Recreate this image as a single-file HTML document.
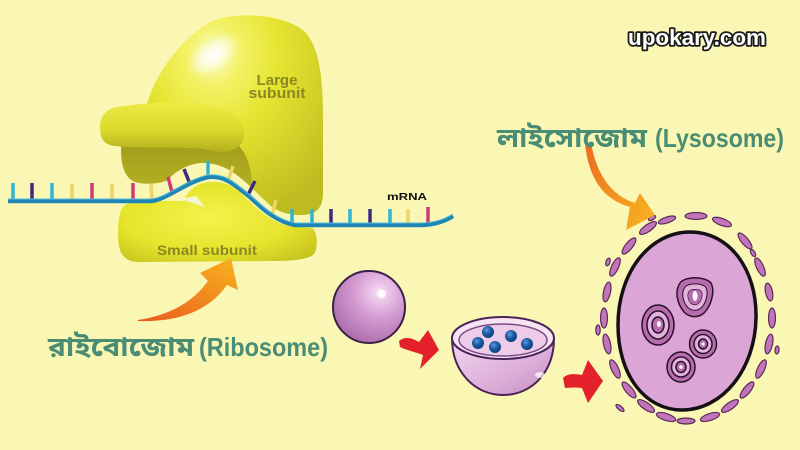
<!DOCTYPE html>
<html><head><meta charset="utf-8"><style>
html,body{margin:0;padding:0;background:#faf7b4;}
svg{display:block;}
</style></head><body>
<svg width="800" height="450" viewBox="0 0 800 450" xmlns="http://www.w3.org/2000/svg">
<defs>
<radialGradient id="gBody" cx="0.38" cy="0.2" r="0.85">
<stop offset="0" stop-color="#fafad0"/><stop offset="0.18" stop-color="#f3f266"/><stop offset="0.45" stop-color="#e5e430"/><stop offset="1" stop-color="#bebb20"/></radialGradient>
<radialGradient id="gHi" cx="0.5" cy="0.5" r="0.5">
<stop offset="0" stop-color="#ffffff" stop-opacity="0.95"/><stop offset="0.5" stop-color="#ffffff" stop-opacity="0.55"/><stop offset="1" stop-color="#ffffff" stop-opacity="0"/></radialGradient>
<linearGradient id="gLip" x1="0" y1="0" x2="0" y2="1">
<stop offset="0" stop-color="#ecea44"/><stop offset="0.55" stop-color="#dcda2c"/><stop offset="1" stop-color="#b3af1e"/></linearGradient>
<linearGradient id="gLow" x1="0" y1="0" x2="0" y2="1">
<stop offset="0" stop-color="#9e9a18"/><stop offset="1" stop-color="#b5b124"/></linearGradient>
<radialGradient id="gSmall" cx="0.45" cy="0.45" r="0.7">
<stop offset="0" stop-color="#f4f34c"/><stop offset="0.6" stop-color="#e6e42c"/><stop offset="1" stop-color="#c6c21e"/></radialGradient>
<radialGradient id="gSphere" cx="0.65" cy="0.3" r="0.8">
<stop offset="0" stop-color="#ffffff"/><stop offset="0.1" stop-color="#f0cdee"/><stop offset="0.45" stop-color="#d39bd0"/><stop offset="1" stop-color="#a866a8"/></radialGradient>
<linearGradient id="gBowl" x1="0" y1="0" x2="1" y2="1">
<stop offset="0" stop-color="#f2d6ee"/><stop offset="0.6" stop-color="#dcaed8"/><stop offset="1" stop-color="#c48cc0"/></linearGradient>
<radialGradient id="gDot" cx="0.4" cy="0.35" r="0.7">
<stop offset="0" stop-color="#5a9ae0"/><stop offset="0.5" stop-color="#1b5aa0"/><stop offset="1" stop-color="#0c3a78"/></radialGradient>
<linearGradient id="gArr1" x1="0" y1="1" x2="1" y2="0">
<stop offset="0" stop-color="#ea5a1e"/><stop offset="1" stop-color="#f8b41e"/></linearGradient>
<linearGradient id="gArr2" x1="0" y1="0" x2="1" y2="1">
<stop offset="0" stop-color="#ec6a22"/><stop offset="1" stop-color="#f8b820"/></linearGradient>
</defs>

<!-- Large subunit body -->
<path d="M147,104 C156,72 182,38 212,21 C238,11 285,14 305,32 C320,48 323,80 323,120 L323,195 C322,210 315,215 300,215 C288,215 280,212 272,207 C262,198 250,186 238,175 C228,167 212,162 200,163 C188,164 180,168 172,176 L165,150 L150,120 Z" fill="url(#gBody)"/>
<ellipse cx="213" cy="55" rx="30" ry="17" fill="url(#gHi)" transform="rotate(-35 213 55)"/>
<!-- lower lip -->
<path d="M122,140 C119,158 123,178 135,182 C145,185 160,184 168,180 C175,172 185,165 200,163 C215,162 228,168 238,176 C244,181 248,184 252,188 C252,170 248,155 238,145 L130,138 Z" fill="url(#gLow)"/>
<!-- top lip -->
<path d="M100,128 C100,112 110,107 125,106 C150,102 190,101 215,107 C238,113 248,125 243,140 C238,153 222,154 202,149 C172,146 140,149 115,146 C104,145 100,138 100,128 Z" fill="url(#gLip)"/>

<!-- Small subunit -->
<path d="M127,204 C140,200 170,201 183,201 C186,196 190,188 200,184 C212,180 228,181 240,192 C252,204 268,222 290,226 L312,228 C318,232 318,248 314,254 C308,260 290,261 270,261 L140,262 C125,262 118,255 118,235 C118,218 120,207 127,204 Z" fill="url(#gSmall)"/>
<path d="M180,199 L196,196 L205,207 Z" fill="#f6f4d4"/>

<!-- mRNA ticks -->
<g stroke-width="3.5" stroke-linecap="butt">
<line x1="13" y1="200" x2="13" y2="183" stroke="#2fb4d4"/>
<line x1="32" y1="200" x2="32" y2="183" stroke="#3c2c7c"/>
<line x1="52" y1="200" x2="52" y2="183" stroke="#2fb4d4"/>
<line x1="72" y1="200" x2="72" y2="184" stroke="#eed468"/>
<line x1="92" y1="200" x2="92" y2="183" stroke="#d03a7a"/>
<line x1="112" y1="200" x2="112" y2="184" stroke="#eed468"/>
<line x1="133" y1="200" x2="133" y2="183" stroke="#d03a7a"/>
<line x1="152" y1="199" x2="151" y2="184" stroke="#eed468"/>
<line x1="172" y1="192" x2="168" y2="177" stroke="#d03a7a"/>
<line x1="190" y1="184" x2="184" y2="169" stroke="#3c2c7c"/>
<line x1="208" y1="177" x2="208" y2="161" stroke="#2fb4d4"/>
<line x1="228" y1="181" x2="233" y2="166" stroke="#eed468"/>
<line x1="248" y1="195" x2="255" y2="181" stroke="#3c2c7c"/>
<line x1="272" y1="215" x2="276" y2="200" stroke="#eed468"/>
<line x1="292" y1="225" x2="292" y2="209" stroke="#2fb4d4"/>
<line x1="312" y1="225" x2="312" y2="209" stroke="#2fb4d4"/>
<line x1="331" y1="225" x2="331" y2="209" stroke="#3c2c7c"/>
<line x1="350" y1="225" x2="350" y2="209" stroke="#2fb4d4"/>
<line x1="370" y1="225" x2="370" y2="209" stroke="#3c2c7c"/>
<line x1="390" y1="225" x2="390" y2="209" stroke="#2fb4d4"/>
<line x1="408" y1="225" x2="408" y2="209" stroke="#eed468"/>
<line x1="428" y1="223" x2="428" y2="207" stroke="#d03a7a"/>
</g>
<!-- mRNA strand -->
<path d="M8,201 L150,201 C165,201 185,182 208,177 C225,175 235,185 250,197 C262,208 275,221 295,225 L420,225 C435,225 445,221 453,216" fill="none" stroke="#1e86b4" stroke-width="4.5"/>
<path d="M8,199 L150,199 C165,199 185,180 208,175 C225,173 235,183 250,195 C262,206 275,219 295,223 L420,223 C435,223 445,219 453,214" fill="none" stroke="#58bcd8" stroke-width="1"/>

<!-- ribosome labels -->
<g font-family="Liberation Sans, sans-serif" font-weight="bold" fill="#8a8822" text-anchor="middle">
<text x="277" y="85" font-size="15" textLength="41" lengthAdjust="spacingAndGlyphs">Large</text>
<text x="277" y="98" font-size="15" textLength="57" lengthAdjust="spacingAndGlyphs">subunit</text>
<text x="207" y="255" font-size="14" textLength="100" lengthAdjust="spacingAndGlyphs">Small subunit</text>
</g>
<text x="387" y="200" font-family="Liberation Sans, sans-serif" font-weight="bold" font-size="10.5" fill="#111" textLength="40" lengthAdjust="spacingAndGlyphs">mRNA</text>

<!-- ribosome arrow -->
<path d="M138,320 Q185,313 208,281 L200,273 L231,258 L238,290 L227,285 Q200,323 138,321 Z" fill="url(#gArr1)"/>

<!-- Ribosome label -->
<text x="48" y="356" font-family="Liberation Sans, 'Noto Sans Bengali', 'Lohit Bengali', FreeSans, sans-serif" font-weight="bold" font-size="27" fill="#4a8c74" textLength="146" lengthAdjust="spacingAndGlyphs">রাইবোজোম</text>
<text x="199" y="356" font-family="Liberation Sans, sans-serif" font-weight="bold" font-size="26" fill="#4a8c74" textLength="129" lengthAdjust="spacingAndGlyphs">(Ribosome)</text>

<!-- sphere -->
<circle cx="369" cy="307" r="36" fill="url(#gSphere)" stroke="#3c1f48" stroke-width="2"/>
<circle cx="382" cy="294" r="4" fill="#fff" opacity="0.9"/>

<!-- red arrow 1 -->
<path d="M399,341 C405,336 412,338 419,342 L428,330 L439,350 L420,369 L423,355 C415,352 406,350 400,347 Z" fill="#e4202a"/>

<!-- bowl -->
<path d="M452,338 C452,372 475,395 503,395 C532,395 554,372 554,338 Z" fill="url(#gBowl)" stroke="#4a2458" stroke-width="2"/>
<ellipse cx="540" cy="375" rx="5" ry="3" fill="#fff" opacity="0.7"/>
<ellipse cx="503" cy="338" rx="51" ry="21" fill="#f6e4f2" stroke="#4a2458" stroke-width="2"/>
<ellipse cx="503" cy="340" rx="44" ry="16" fill="#edccea" stroke="#7a4a86" stroke-width="1.5"/>
<g fill="url(#gDot)">
<circle cx="488" cy="332" r="6"/><circle cx="511" cy="336" r="6"/><circle cx="478" cy="343" r="6"/><circle cx="495" cy="347" r="6"/><circle cx="527" cy="344" r="6"/>
</g>

<!-- red arrow 2 -->
<path d="M563,378 C568,373 576,374 582,375 L588,360 L603,381 L588,403 L582,388 C575,387 568,388 565,388 Z" fill="#e4202a"/>

<!-- lysosome membrane fragments -->
<g fill="#c274ba" stroke="#5a2a5a" stroke-width="1.2">
<ellipse cx="772" cy="318" rx="10" ry="3.5" transform="rotate(90 772 318)"/>
<ellipse cx="769" cy="344" rx="10" ry="3.5" transform="rotate(102 769 344)"/>
<ellipse cx="761" cy="369" rx="10" ry="3.5" transform="rotate(115 761 369)"/>
<ellipse cx="747" cy="390" rx="10" ry="3.5" transform="rotate(129 747 390)"/>
<ellipse cx="730" cy="406" rx="10" ry="3.5" transform="rotate(145 730 406)"/>
<ellipse cx="710" cy="417" rx="10" ry="3.5" transform="rotate(162 710 417)"/>
<ellipse cx="686" cy="421" rx="9" ry="3" transform="rotate(180 686 421)"/>
<ellipse cx="666" cy="417" rx="10" ry="3.5" transform="rotate(18 666 417)"/>
<ellipse cx="646" cy="406" rx="10" ry="3.5" transform="rotate(35 646 406)"/>
<ellipse cx="629" cy="390" rx="10" ry="3.5" transform="rotate(50 629 390)"/>
<ellipse cx="615" cy="369" rx="10" ry="3.5" transform="rotate(65 615 369)"/>
<ellipse cx="607" cy="344" rx="10" ry="3.5" transform="rotate(78 607 344)"/>
<ellipse cx="604" cy="318" rx="10" ry="3.5" transform="rotate(90 604 318)"/>
<ellipse cx="607" cy="292" rx="10" ry="3.5" transform="rotate(102 607 292)"/>
<ellipse cx="615" cy="267" rx="10" ry="3.5" transform="rotate(115 615 267)"/>
<ellipse cx="629" cy="246" rx="10" ry="3.5" transform="rotate(129 629 246)"/>
<ellipse cx="648" cy="228" rx="10" ry="3.5" transform="rotate(145 648 228)"/>
<ellipse cx="667" cy="220" rx="9" ry="3" transform="rotate(162 667 220)"/>
<ellipse cx="696" cy="216" rx="11" ry="3.5" transform="rotate(0 696 216)"/>
<ellipse cx="722" cy="222" rx="10" ry="3.5" transform="rotate(20 722 222)"/>
<ellipse cx="745" cy="241" rx="10" ry="3.5" transform="rotate(50 745 241)"/>
<ellipse cx="760" cy="267" rx="10" ry="3.5" transform="rotate(65 760 267)"/>
<ellipse cx="769" cy="292" rx="9" ry="3.5" transform="rotate(78 769 292)"/>
<ellipse cx="598" cy="330" rx="5" ry="2.2" transform="rotate(90 598 330)"/>
<ellipse cx="608" cy="262" rx="4" ry="2" transform="rotate(110 608 262)"/>
<ellipse cx="652" cy="218" rx="4" ry="2" transform="rotate(150 652 218)"/>
<ellipse cx="753" cy="253" rx="4" ry="2" transform="rotate(60 753 253)"/>
<ellipse cx="777" cy="350" rx="4" ry="2" transform="rotate(95 777 350)"/>
<ellipse cx="620" cy="408" rx="5" ry="2" transform="rotate(40 620 408)"/>
</g>

<!-- lysosome body -->
<path d="M690,232 C730,232 757,270 756,318 C755,370 722,410 682,410 C645,410 618,375 618,325 C618,272 650,232 690,232 Z" fill="#dba5d5" stroke="#151015" stroke-width="3.5"/>

<!-- vesicles -->
<g stroke="#2a1028" stroke-width="1.5">
<path d="M680,283 C685,276 705,276 711,283 C715,290 712,305 704,313 C698,318 690,318 684,312 C676,302 675,290 680,283 Z" fill="#b86cb0"/>
<path d="M680,283 C685,276 705,276 711,283 C715,290 712,305 704,313 C698,318 690,318 684,312 C676,302 675,290 680,283 Z" fill="#e2b4dc" transform="translate(695,297) scale(0.68) translate(-695,-297)"/>
<path d="M680,283 C685,276 705,276 711,283 C715,290 712,305 704,313 C698,318 690,318 684,312 C676,302 675,290 680,283 Z" fill="#b86cb0" transform="translate(695,297) scale(0.4) translate(-695,-297)"/>
<ellipse cx="658" cy="325" rx="16" ry="20" fill="#b86cb0"/>
<ellipse cx="658" cy="325" rx="11" ry="14" fill="#e2b4dc"/>
<ellipse cx="658" cy="325" rx="6" ry="8" fill="#b86cb0"/>
<ellipse cx="703" cy="344" rx="13.5" ry="14" fill="#b86cb0"/>
<ellipse cx="703" cy="344" rx="9" ry="9.5" fill="#e2b4dc"/>
<ellipse cx="703" cy="344" rx="4.5" ry="5" fill="#b86cb0"/>
<ellipse cx="681" cy="367" rx="14" ry="15" fill="#b86cb0"/>
<ellipse cx="681" cy="367" rx="9.5" ry="10" fill="#e2b4dc"/>
<ellipse cx="681" cy="367" rx="5" ry="5.5" fill="#b86cb0"/>
</g>
<g fill="#fff">
<ellipse cx="695" cy="296" rx="2.5" ry="5"/>
<ellipse cx="659" cy="324" rx="2" ry="3"/>
<circle cx="703" cy="344" r="1.6"/>
<circle cx="681" cy="367" r="1.8"/>
</g>

<!-- lysosome arrow -->
<path d="M585,143 Q590,196 630,207 L626,230 L655,215 L640,193 L635,203 Q600,192 591,143 Z" fill="url(#gArr2)"/>

<!-- Lysosome label -->
<text x="497" y="147" font-family="Liberation Sans, 'Noto Sans Bengali', 'Lohit Bengali', FreeSans, sans-serif" font-weight="bold" font-size="27" fill="#4a8c74" textLength="150" lengthAdjust="spacingAndGlyphs">লাইসোজোম</text>
<text x="655" y="147" font-family="Liberation Sans, sans-serif" font-weight="bold" font-size="26" fill="#4a8c74" textLength="129" lengthAdjust="spacingAndGlyphs">(Lysosome)</text>

<!-- watermark -->
<text x="628" y="45" font-family="Liberation Sans, sans-serif" font-weight="bold" font-size="22" fill="#ffffff" stroke="#1a1a1a" stroke-width="3.5" stroke-linejoin="round" paint-order="stroke" textLength="138" lengthAdjust="spacingAndGlyphs">upokary.com</text>
</svg>
</body></html>
